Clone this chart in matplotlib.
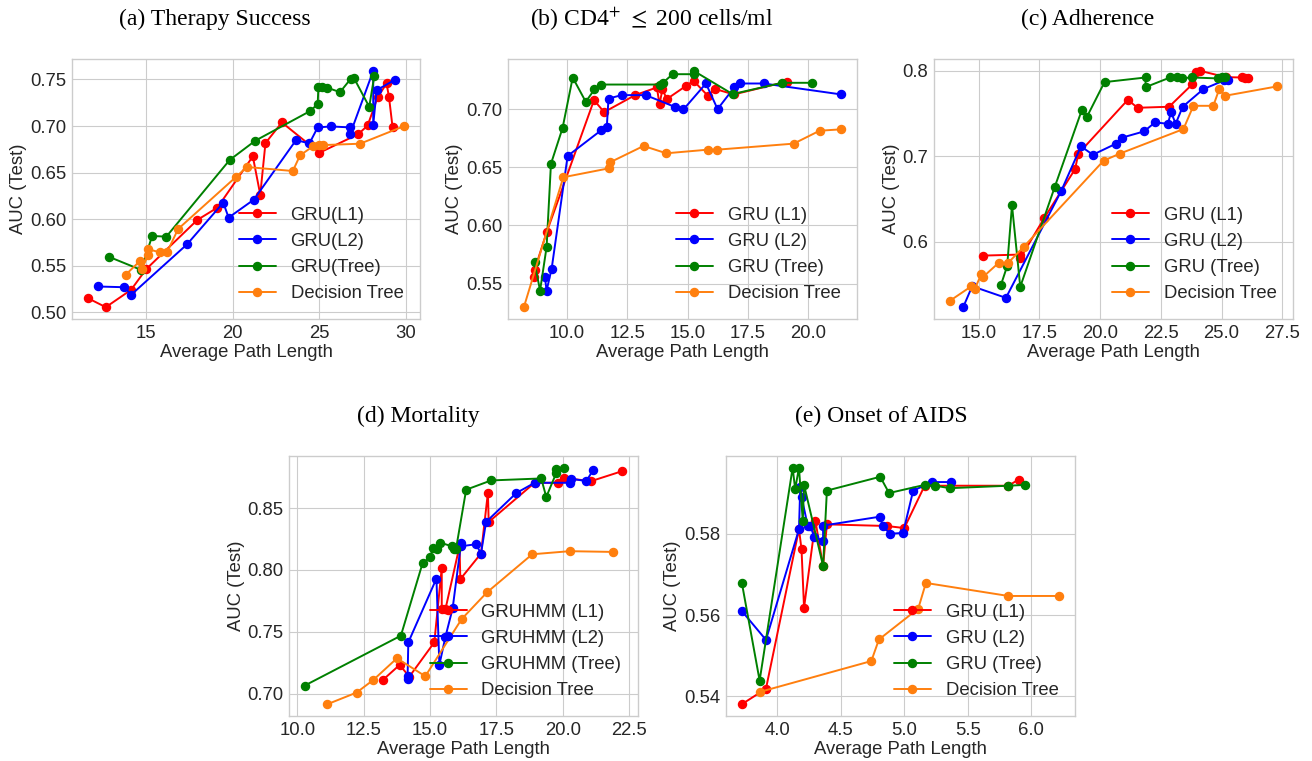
import matplotlib
matplotlib.use("Agg")
import matplotlib.pyplot as plt
from matplotlib.ticker import MultipleLocator

# ---------------- data ----------------
# (a) Therapy Success
a_l1_x = [11.63, 12.67, 14.13, 15.0, 17.96, 19.12, 21.17, 21.6, 21.9, 22.85, 25.02, 27.27, 27.81, 28.38, 28.9, 29.04, 29.25]
a_l1_y = [0.5154, 0.5057, 0.5243, 0.5464, 0.5993, 0.6125, 0.6675, 0.6264, 0.6818, 0.7039, 0.6714, 0.6914, 0.7007, 0.7307, 0.7457, 0.7314, 0.6986]
a_l2_x = [12.19, 13.75, 14.13, 17.37, 19.46, 19.77, 21.23, 23.67, 24.44, 24.92, 25.69, 26.79, 26.79, 28.13, 28.13, 28.33, 29.38]
a_l2_y = [0.5279, 0.5271, 0.5189, 0.5732, 0.6179, 0.6018, 0.6211, 0.685, 0.6814, 0.6986, 0.6996, 0.6986, 0.6911, 0.7593, 0.7014, 0.7386, 0.7496]
a_tr_x = [12.87, 14.71, 15.35, 16.17, 19.83, 21.31, 24.48, 24.92, 24.96, 25.15, 25.44, 26.21, 26.83, 27.02, 27.9, 28.19]
a_tr_y = [0.5596, 0.5457, 0.5821, 0.5814, 0.6636, 0.6843, 0.7161, 0.7236, 0.7421, 0.7421, 0.7414, 0.7364, 0.7507, 0.7514, 0.7207, 0.7536]
a_dt_x = [13.83, 14.63, 14.77, 15.12, 15.12, 15.79, 16.21, 16.85, 20.17, 20.83, 23.48, 23.9, 24.67, 25.02, 25.21, 27.37, 29.92]
a_dt_y = [0.5407, 0.555, 0.5471, 0.5618, 0.5679, 0.5646, 0.5646, 0.5896, 0.645, 0.6561, 0.6518, 0.6686, 0.6786, 0.68, 0.6796, 0.6811, 0.70]

# (b) CD4+ <= 200 cells/ml
b_l1_x = [8.65, 8.67, 9.17, 11.13, 11.55, 12.83, 13.73, 13.84, 13.96, 14.14, 14.94, 15.25, 15.84, 16.12, 16.91, 19.12]
b_l1_y = [0.5557, 0.5614, 0.594, 0.7077, 0.6974, 0.712, 0.7186, 0.704, 0.7171, 0.7086, 0.72, 0.7243, 0.7114, 0.7174, 0.7126, 0.7237]
b_l2_x = [9.10, 9.17, 9.38, 10.04, 11.44, 11.66, 11.73, 12.28, 13.27, 14.46, 14.83, 15.76, 16.24, 16.93, 17.15, 18.15, 21.35]
b_l2_y = [0.5557, 0.544, 0.5629, 0.6597, 0.682, 0.6849, 0.7091, 0.712, 0.712, 0.702, 0.6997, 0.722, 0.70, 0.7186, 0.722, 0.722, 0.7126]
b_tr_x = [8.67, 8.9, 9.17, 9.35, 9.83, 10.25, 10.79, 11.15, 11.41, 13.87, 13.98, 14.38, 15.25, 15.25, 16.86, 18.91, 20.15]
b_tr_y = [0.5683, 0.544, 0.5814, 0.6529, 0.6837, 0.7271, 0.7063, 0.7169, 0.7211, 0.7211, 0.7226, 0.73, 0.73, 0.7329, 0.7129, 0.7226, 0.7226]
b_dt_x = [8.23, 9.86, 11.73, 11.8, 13.18, 14.12, 15.83, 16.22, 19.39, 20.46, 21.35]
b_dt_y = [0.5297, 0.6414, 0.649, 0.6543, 0.6683, 0.662, 0.6651, 0.6651, 0.6703, 0.6814, 0.6826]

# (c) Adherence
c_l1_x = [15.18, 16.71, 16.71, 17.7, 18.97, 19.1, 21.14, 21.54, 22.84, 23.8, 23.94, 24.11, 25.18, 25.83, 25.96, 26.07]
c_l1_y = [0.584, 0.5852, 0.5809, 0.628, 0.6852, 0.7031, 0.7661, 0.7568, 0.758, 0.7844, 0.7984, 0.80, 0.7926, 0.7922, 0.7918, 0.7918]
c_l2_x = [14.36, 14.73, 16.12, 18.39, 19.21, 19.7, 20.65, 20.89, 21.81, 22.26, 22.79, 22.92, 23.11, 23.4, 24.25, 25.1, 25.28]
c_l2_y = [0.5237, 0.5482, 0.5346, 0.6591, 0.7117, 0.7019, 0.7148, 0.7218, 0.7292, 0.7397, 0.7381, 0.7518, 0.7381, 0.758, 0.7786, 0.7887, 0.7895]
c_tr_x = [15.92, 16.17, 16.37, 16.71, 18.13, 19.25, 19.45, 20.18, 21.87, 21.87, 22.88, 23.16, 23.36, 23.8, 24.87, 25.0, 25.14]
c_tr_y = [0.5502, 0.5716, 0.6428, 0.5475, 0.6642, 0.7545, 0.7459, 0.7868, 0.7922, 0.7809, 0.7922, 0.7922, 0.7914, 0.7922, 0.7911, 0.7922, 0.7922]
c_dt_x = [13.83, 14.7, 14.84, 15.11, 15.18, 15.82, 16.21, 16.85, 20.14, 20.8, 23.43, 23.84, 24.66, 24.91, 25.14, 27.27]
c_dt_y = [0.5315, 0.5482, 0.5451, 0.5626, 0.5591, 0.5755, 0.5755, 0.5942, 0.6949, 0.7031, 0.7319, 0.7591, 0.7591, 0.779, 0.7708, 0.7817]

# (d) Mortality
d_l1_x = [13.22, 13.85, 14.22, 15.16, 15.44, 15.44, 15.58, 16.11, 16.14, 16.92, 17.18, 17.21, 18.94, 19.82, 20.03, 21.08, 22.24]
d_l1_y = [0.711, 0.7231, 0.7137, 0.7414, 0.8016, 0.7683, 0.7683, 0.8191, 0.7925, 0.8132, 0.8624, 0.8387, 0.8704, 0.8704, 0.8742, 0.8718, 0.8798]
d_l2_x = [14.15, 14.15, 14.18, 15.24, 15.35, 15.58, 15.85, 16.17, 16.17, 16.73, 16.92, 17.11, 18.25, 18.94, 20.26, 20.3, 20.89, 21.14]
d_l2_y = [0.7142, 0.7118, 0.7414, 0.793, 0.7231, 0.746, 0.7688, 0.8218, 0.8191, 0.8207, 0.8132, 0.8387, 0.8621, 0.8704, 0.8704, 0.8737, 0.8718, 0.8804]
d_tr_x = [10.28, 13.9, 14.72, 15.01, 15.11, 15.26, 15.38, 15.82, 15.92, 15.98, 16.36, 17.3, 19.19, 19.38, 19.76, 19.76, 20.05]
d_tr_y = [0.7065, 0.7468, 0.8056, 0.81, 0.8177, 0.8172, 0.822, 0.8191, 0.8172, 0.8172, 0.8648, 0.8723, 0.8739, 0.8589, 0.8785, 0.8812, 0.8825]
d_dt_x = [11.13, 12.23, 12.86, 13.75, 14.82, 16.19, 17.14, 18.85, 20.26, 21.9]
d_dt_y = [0.6914, 0.7008, 0.711, 0.7285, 0.714, 0.7602, 0.7817, 0.8126, 0.8151, 0.8145]

# (e) Onset of AIDS
e_l1_x = [3.72, 3.91, 4.17, 4.19, 4.21, 4.30, 4.36, 4.39, 4.86, 5.0, 5.16, 5.82, 5.9]
e_l1_y = [0.5381, 0.5419, 0.5811, 0.5762, 0.5618, 0.5831, 0.572, 0.5823, 0.5819, 0.5814, 0.5918, 0.5918, 0.5933]
e_l2_x = [3.72, 3.91, 4.17, 4.18, 4.19, 4.24, 4.26, 4.29, 4.36, 4.36, 4.81, 4.83, 4.89, 4.99, 5.07, 5.22, 5.37]
e_l2_y = [0.561, 0.5539, 0.5811, 0.5914, 0.5891, 0.5818, 0.5818, 0.5793, 0.5782, 0.582, 0.5842, 0.5818, 0.58, 0.5802, 0.5906, 0.5927, 0.5927]
e_tr_x = [3.72, 3.86, 4.12, 4.14, 4.17, 4.2, 4.21, 4.36, 4.39, 4.81, 4.88, 5.16, 5.24, 5.36, 5.82, 5.95]
e_tr_y = [0.5679, 0.5439, 0.5962, 0.591, 0.5962, 0.5831, 0.592, 0.5721, 0.5906, 0.594, 0.59, 0.592, 0.5918, 0.5912, 0.5918, 0.592]
e_dt_x = [3.86, 4.74, 4.80, 5.11, 5.17, 5.82, 6.22]
e_dt_y = [0.5411, 0.5487, 0.554, 0.5616, 0.5679, 0.5647, 0.5647]

titles = ["(a) Therapy Success", r"(b) CD4$^{+}$ $\leq$ 200 cells/ml", "(c) Adherence",
          "(d) Mortality", "(e) Onset of AIDS"]
labels_gru = ["GRU(L1)", "GRU(L2)", "GRU(Tree)", "Decision Tree"]
labels_gru_sp = ["GRU (L1)", "GRU (L2)", "GRU (Tree)", "Decision Tree"]
labels_hmm = ["GRUHMM (L1)", "GRUHMM (L2)", "GRUHMM (Tree)", "Decision Tree"]
xlabel = "Average Path Length"
ylabel = "AUC (Test)"

# ---------------- style ----------------
plt.style.use("seaborn-v0_8-whitegrid")
plt.rcParams["font.family"] = ["Liberation Sans", "DejaVu Sans"]
plt.rcParams["mathtext.fontset"] = "stix"
FS = 13.3
plt.rcParams.update({
    "axes.edgecolor": ".8",
    "grid.color": ".8",
    "text.color": ".15",
    "axes.labelcolor": ".15",
    "xtick.color": ".15",
    "ytick.color": ".15",
    "xtick.labelsize": FS,
    "ytick.labelsize": FS,
    "axes.labelsize": FS,
})

W, H = 1312, 761
fig = plt.figure(figsize=(W / 100, H / 100), dpi=100)

def ax_at(l, t, r, b):
    return fig.add_axes([l / W, 1 - b / H, (r - l) / W, (b - t) / H])

colors = ["red", "blue", "green", "#ff7f0e"]

panels = [
    (ax_at(72, 59, 420, 319), [(a_l1_x, a_l1_y), (a_l2_x, a_l2_y), (a_tr_x, a_tr_y), (a_dt_x, a_dt_y)],
     labels_gru, 5, 0.05),
    (ax_at(508, 59, 857, 319), [(b_l1_x, b_l1_y), (b_l2_x, b_l2_y), (b_tr_x, b_tr_y), (b_dt_x, b_dt_y)],
     labels_gru_sp, 2.5, 0.05),
    (ax_at(934, 59, 1293, 319), [(c_l1_x, c_l1_y), (c_l2_x, c_l2_y), (c_tr_x, c_tr_y), (c_dt_x, c_dt_y)],
     labels_gru_sp, 2.5, 0.1),
    (ax_at(289, 456, 638, 716), [(d_l1_x, d_l1_y), (d_l2_x, d_l2_y), (d_tr_x, d_tr_y), (d_dt_x, d_dt_y)],
     labels_hmm, 2.5, 0.05),
    (ax_at(726, 456, 1075, 716), [(e_l1_x, e_l1_y), (e_l2_x, e_l2_y), (e_tr_x, e_tr_y), (e_dt_x, e_dt_y)],
     labels_gru_sp, 0.5, 0.02),
]

for ax, series, labs, xstep, ystep in panels:
    for (xs, ys), c, lab in zip(series, colors, labs):
        ax.plot(xs, ys, "-o", color=c, label=lab, linewidth=1.4, markersize=5.8)
    ax.xaxis.set_major_locator(MultipleLocator(xstep))
    ax.yaxis.set_major_locator(MultipleLocator(ystep))
    ax.set_xlabel(xlabel, labelpad=2)
    ax.set_ylabel(ylabel, labelpad=2)
    ax.tick_params(axis="both", which="both", length=0, pad=4)
    ax.legend(loc="lower right", fontsize=FS, frameon=False, labelspacing=0.5,
              handlelength=2.0, handletextpad=0.8)

title_pos = [(215, 19), (652, 19), (1088, 19), (418, 416), (881, 416)]
for (x, y), t in zip(title_pos, titles):
    fig.text(x / W, 1 - y / H, t, ha="center", va="center", fontsize=17,
             family=["Liberation Serif", "DejaVu Serif"], color="black")

fig.savefig("out.png", dpi=100)
